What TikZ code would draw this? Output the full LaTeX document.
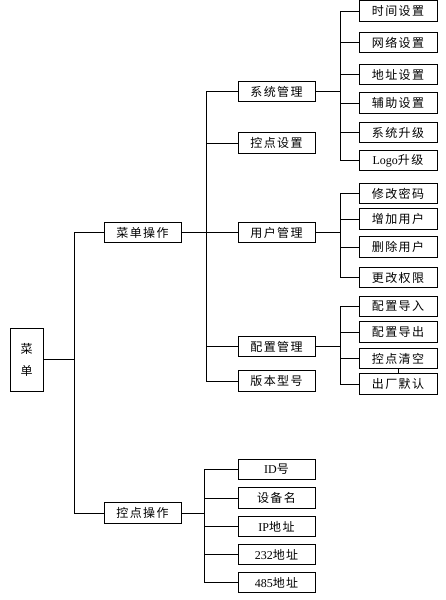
\documentclass[tikz,border=0pt]{standalone}
\usepackage{fontspec}
\setmainfont{Liberation Serif}
\newfontfamily\cjk[LetterSpace=12]{Noto Sans CJK SC}
\begin{document}
\begin{tikzpicture}[x=1pt,y=-1pt,
  box/.style={draw,line width=1pt,inner sep=0pt,minimum height=20.5pt,font=\fontsize{12}{14}\selectfont\cjk},
  lthree/.style={box,minimum width=78pt},
  ltwo/.style={box,minimum width=77pt},
  conn/.style={line width=0.9pt}]
\useasboundingbox (0,0) rectangle (445,600);
% root
\node[draw,line width=1pt,minimum width=33pt,minimum height=63pt,inner sep=0pt,align=center,font=\fontsize{12}{22}\selectfont\cjk] (root) at (26.5,359.5) {菜\\单};
% level 1
\node[ltwo] (cd) at (142.5,232.5) {菜单操作};
\node[ltwo] (kd) at (142.5,513) {控点操作};
% level 2 under 菜单操作
\node[ltwo] (xt) at (276.5,91.5) {系统管理};
\node[ltwo] (kz) at (276.5,143) {控点设置};
\node[ltwo] (yh) at (276.5,232.5) {用户管理};
\node[ltwo] (pz) at (276.5,346.5) {配置管理};
\node[ltwo] (bb) at (276.5,381) {版本型号};
% level 2 under 控点操作
\node[ltwo] (id) at (276.5,469.5) {{\rmfamily ID}号};
\node[ltwo] (sb) at (276.5,498) {设备名};
\node[ltwo] (ip) at (276.5,526.5) {{\rmfamily IP}地址};
\node[ltwo] (a232) at (276.5,554.5) {{\rmfamily 232}地址};
\node[ltwo] (a485) at (276.5,582.5) {{\rmfamily 485}地址};
% level 3 under 系统管理
\node[lthree] (s1) at (398,11) {时间设置};
\node[lthree] (s2) at (398,42.5) {网络设置};
\node[lthree] (s3) at (398,74.5) {地址设置};
\node[lthree] (s4) at (398,103) {辅助设置};
\node[lthree] (s5) at (398,132.5) {系统升级};
\node[lthree] (s6) at (398,160.5) {{\rmfamily Logo}升级};
% level 3 under 用户管理
\node[lthree] (u1) at (398,193.5) {修改密码};
\node[lthree] (u2) at (398,219) {增加用户};
\node[lthree] (u3) at (398,247) {删除用户};
\node[lthree] (u4) at (398,277.5) {更改权限};
% level 3 under 配置管理
\node[lthree] (p1) at (398,306.5) {配置导入};
\node[lthree] (p2) at (398,332) {配置导出};
\node[lthree] (p3) at (398,358.5) {控点清空};
\node[lthree] (p4) at (398,384) {出厂默认};
% bus coordinates
\coordinate (b0) at (74,0);
\coordinate (b1) at (206,0);
\coordinate (b2) at (204,0);
\coordinate (b3) at (340,0);
% connectors
\foreach \c in {cd,kd} \draw[conn] (root.east) -- (b0 |- root.east) |- (\c.west);
\foreach \c in {xt,kz,yh,pz,bb} \draw[conn] (cd.east) -- (b1 |- cd.east) |- (\c.west);
\foreach \c in {id,sb,ip,a232,a485} \draw[conn] (kd.east) -- (b2 |- kd.east) |- (\c.west);
\foreach \c in {s1,s2,s3,s4,s5,s6} \draw[conn] (xt.east) -- (b3 |- xt.east) |- (\c.west);
\foreach \c in {u1,u2,u3,u4} \draw[conn] (yh.east) -- (b3 |- yh.east) |- (\c.west);
\foreach \c in {p1,p2,p3,p4} \draw[conn] (pz.east) -- (b3 |- pz.east) |- (\c.west);
\draw[line width=0.6pt] (p3.south) -- (p4.north);
\end{tikzpicture}
\end{document}
